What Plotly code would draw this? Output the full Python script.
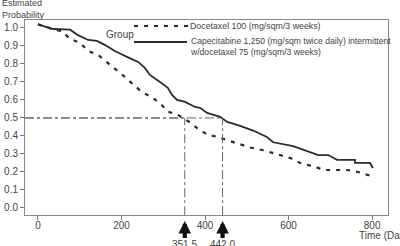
import plotly.graph_objects as go

# Data
cape_days = [0, 36, 77, 96, 120, 141, 160, 184, 213, 240, 256, 268, 292, 311, 321, 333, 352, 376,
             388, 405, 436, 453, 484, 515, 548, 563, 611, 644, 671, 695, 716, 759, 759, 795, 802]
cape_prob = [1.02, 0.994, 0.99, 0.96, 0.933, 0.928, 0.906, 0.872, 0.839, 0.811, 0.778, 0.739, 0.70,
             0.667, 0.628, 0.60, 0.589, 0.561, 0.556, 0.528, 0.506, 0.478, 0.456, 0.43, 0.394, 0.365,
             0.344, 0.317, 0.294, 0.294, 0.267, 0.267, 0.25, 0.25, 0.222]
doce_days = [0, 40, 57, 77, 101, 120, 144, 165, 187, 208, 228, 249, 273, 292, 311, 335, 359, 381,
             405, 431, 455, 479, 508, 537, 563, 587, 611, 632, 659, 683, 716, 740, 766, 790, 800]
doce_prob = [1.02, 0.99, 0.983, 0.939, 0.917, 0.872, 0.85, 0.811, 0.772, 0.728, 0.686, 0.644, 0.614,
             0.583, 0.535, 0.517, 0.483, 0.444, 0.408, 0.394, 0.375, 0.358, 0.336, 0.322, 0.306, 0.289,
             0.272, 0.244, 0.233, 0.211, 0.211, 0.211, 0.20, 0.183, 0.183]
medians = [351.5, 442.0]
median_labels = ["351.5", "442.0"]
y_ticks = [0.0, 0.1, 0.2, 0.3, 0.4, 0.5, 0.6, 0.7, 0.8, 0.9, 1.0]
x_ticks = [0, 200, 400, 600, 800]
series_names = ["Docetaxel 100 (mg/sqm/3 weeks)",
                "Capecitabine 1,250 (mg/sqm twice daily) intermittent<br>w/docetaxel 75 (mg/sqm/3 weeks)"]

FONT = "Liberation Sans, Arial, sans-serif"
TXT = "#444444"
LINE = "#2b2b2b"
DOCE_DASH = "4px,6px"


# pixel helpers relative to the plot area (25..388 x 20..215)
def px_x(p):
    return (p - 25) / 363.0


def px_y(p):
    return (215 - p) / 195.0


fig = go.Figure()
fig.add_trace(go.Scatter(x=doce_days, y=doce_prob, mode="lines",
                         line=dict(color=LINE, width=2.2, dash=DOCE_DASH), showlegend=False))
fig.add_trace(go.Scatter(x=cape_days, y=cape_prob, mode="lines",
                         line=dict(color=LINE, width=1.8), showlegend=False))

# median reference lines, arrows and labels
for m, lab in zip(medians, median_labels):
    fig.add_shape(type="line", xref="x", yref="y", x0=-31, x1=m, y0=0.5, y1=0.5,
                  line=dict(color="#666666", width=1, dash="dashdot"))
    fig.add_shape(type="line", xref="x", yref="y", x0=m, x1=m, y0=-0.04, y1=0.5,
                  line=dict(color="#666666", width=1, dash="dashdot"))
    fig.add_annotation(x=m, y=px_y(221), xref="x", yref="paper", text=lab, showarrow=True,
                       ax=0, ay=24, arrowhead=2, arrowsize=0.6, arrowwidth=4.2,
                       arrowcolor="#111111", standoff=0, startstandoff=0,
                       xanchor="center", yanchor="middle",
                       font=dict(family=FONT, size=10, color=TXT))

# legend drawn manually
fig.add_annotation(x=px_x(104), y=px_y(35), xref="paper", yref="paper", text="Group",
                   showarrow=False, xanchor="left", yanchor="middle",
                   font=dict(family=FONT, size=10, color=TXT))
fig.add_shape(type="line", xref="paper", yref="paper", x0=px_x(134), x1=px_x(188),
              y0=px_y(26), y1=px_y(26), line=dict(color=LINE, width=2.2, dash=DOCE_DASH))
fig.add_shape(type="line", xref="paper", yref="paper", x0=px_x(134), x1=px_x(187),
              y0=px_y(42), y1=px_y(42), line=dict(color=LINE, width=1.8))
fig.add_annotation(x=px_x(188), y=px_y(26), xref="paper", yref="paper", text=series_names[0],
                   showarrow=False, xanchor="left", yanchor="middle",
                   font=dict(family=FONT, size=8.8, color=TXT))
fig.add_annotation(x=px_x(188), y=px_y(47), xref="paper", yref="paper", text=series_names[1],
                   showarrow=False, xanchor="left", yanchor="middle", align="left",
                   font=dict(family=FONT, size=8.6, color=TXT))

# axis titles
fig.add_annotation(x=px_x(0), y=px_y(0), xref="paper", yref="paper", text="Estimated<br>Probability",
                   showarrow=False, xanchor="left", yanchor="top", align="left",
                   yshift=4, font=dict(family=FONT, size=9, color=TXT))
fig.add_annotation(x=px_x(357), y=px_y(235), xref="paper", yref="paper", text="Time (Days)",
                   showarrow=False, xanchor="left", yanchor="middle",
                   font=dict(family=FONT, size=10, color=TXT))

fig.update_xaxes(range=[-31, 838], tickvals=x_ticks, ticks="outside", ticklen=4,
                 tickcolor="#777777", showline=True, linecolor="#888888", mirror=True,
                 showgrid=False, zeroline=False, automargin=False, ticklabelstandoff=-3,
                 tickfont=dict(family=FONT, size=10, color=TXT))
fig.update_yaxes(range=[-0.039, 1.044], tickvals=y_ticks, tickformat=".1f", ticks="outside",
                 ticklen=4, tickcolor="#777777", showline=True, linecolor="#888888", mirror=True,
                 showgrid=False, zeroline=False, automargin=False,
                 tickfont=dict(family=FONT, size=10, color=TXT))
fig.update_layout(width=400, height=246, margin=dict(l=25, r=12, t=20, b=31, autoexpand=False),
                  paper_bgcolor="white", plot_bgcolor="white", showlegend=False)

fig.write_html("out.html")
